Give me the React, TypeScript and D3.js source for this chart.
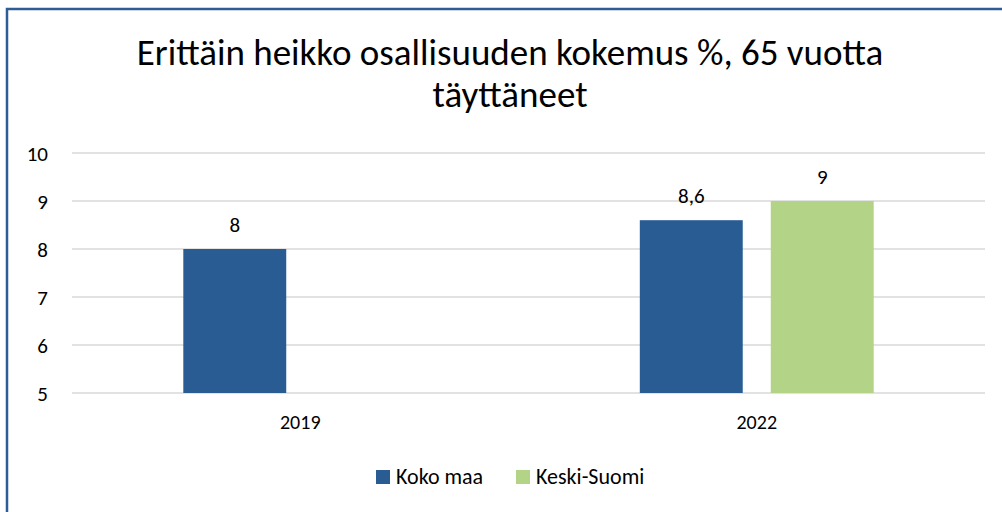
import React from 'react';
import * as d3 from 'd3';

// chart data
const categories = ['2019', '2022'];
const seriesNames = ['Koko maa', 'Keski-Suomi'];
const kokoMaa: (number | null)[] = [8, 8.6];
const keskiSuomi: (number | null)[] = [null, 9];
const yTicks = [5, 6, 7, 8, 9, 10];
const colors = ['#285C92', '#B3D386'];

const W = 1002;
const H = 512;
const FONT = 'Carlito, Lato, "Open Sans", sans-serif';

const App = () => {
  const margin = { left: 72, right: 17, top: 153, bottom: 119 };

  // scales
  const x0 = d3.scaleBand()
    .domain(categories)
    .range([margin.left, W - margin.right]);
  const x1 = d3.scaleBand()
    .domain(seriesNames)
    .range([0, x0.bandwidth()])
    .paddingInner(0.214)
    .paddingOuter(0.85);
  const y = d3.scaleLinear()
    .domain([5, 10])
    .range([H - margin.bottom, margin.top]);

  const series = [kokoMaa, keskiSuomi];
  const fmt = (v: number) => String(v).replace('.', ',');

  return (
    <svg width={W} height={H} style={{ position: 'absolute', left: 0, top: 0, background: '#fff' }}>
      {/* outer frame */}
      <rect x={7} y={9} width={W + 10} height={H + 10} fill="none" stroke="#2E5D95" strokeWidth={2.5} />

      <text x={510} y={65} textAnchor="middle" fontFamily={FONT} fontSize={37} fill="#000">
        Erittäin heikko osallisuuden kokemus %, 65 vuotta
      </text>
      <text x={510} y={107} textAnchor="middle" fontFamily={FONT} fontSize={37} fill="#000">
        täyttäneet
      </text>

      {/* gridlines + y labels */}
      {yTicks.map(t => (
        <g key={t}>
          <line x1={margin.left} x2={W - margin.right} y1={y(t)} y2={y(t)} stroke="#D9D9D9" strokeWidth={1.5} />
          <text x={48} y={y(t)} dy="0.36em" textAnchor="end" fontFamily={FONT} fontSize={21} fill="#000">{t}</text>
        </g>
      ))}

      {/* bars */}
      {categories.map((c, i) => (
        <g key={c} transform={`translate(${x0(c)},0)`}>
          {series.map((s, j) => {
            const v = s[i];
            if (v == null) return null;
            const bx = x1(seriesNames[j])!;
            return (
              <g key={j}>
                <rect x={bx} y={y(v)} width={x1.bandwidth()} height={y(5) - y(v)} fill={colors[j]} />
                <text x={bx + x1.bandwidth() / 2} y={y(v) - 17} textAnchor="middle" fontFamily={FONT} fontSize={21} fill="#000">{fmt(v)}</text>
              </g>
            );
          })}
          <text x={x0.bandwidth() / 2} y={429} textAnchor="middle" fontFamily={FONT} fontSize={20} fill="#000">{c}</text>
        </g>
      ))}

      {/* legend */}
      {seriesNames.map((n, j) => {
        const lx = j === 0 ? 376 : 516;
        return (
          <g key={n}>
            <rect x={lx} y={470} width={14} height={14} fill={colors[j]} />
            <text x={lx + 20} y={484} fontFamily={FONT} fontSize={22} fill="#000">{n}</text>
          </g>
        );
      })}
    </svg>
  );
};

export default App;
